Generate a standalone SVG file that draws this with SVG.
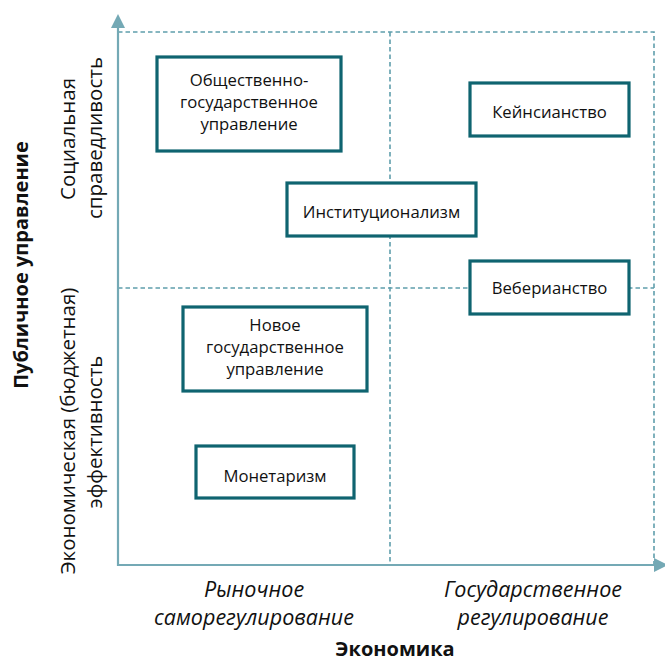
<svg xmlns="http://www.w3.org/2000/svg" width="665" height="661" viewBox="0 0 665 661">
<style>
.box{fill:#fff;stroke:#0f6470;stroke-width:3.2}
.t{font-family:"Open Sans","Noto Sans",sans-serif;font-size:16.7px;fill:#111;text-anchor:middle}
.lab{font-family:"Open Sans","Noto Sans",sans-serif;font-size:20.5px;fill:#111;text-anchor:middle}
.it{font-family:"Open Sans","Noto Sans",sans-serif;font-style:italic;font-size:21.5px;fill:#111;text-anchor:middle}
.b{font-family:"Open Sans","Noto Sans",sans-serif;font-weight:bold;font-size:20px;fill:#111;text-anchor:middle}
.dash{stroke:#5f9eac;stroke-width:1.6;stroke-dasharray:4.5 3;fill:none}
.axis{stroke:#74a9b5;stroke-width:2.2;fill:none}
.head{fill:#74a9b5}
</style>
<g id="connectors">
<path class="dash" d="M118 32 H654 V565"/>
<path class="dash" d="M390 32 V565"/>
<path class="dash" d="M118 288 H654"/>
<path class="axis" d="M118 28 V565 H656"/>
<polygon class="head" points="118,14 111,28 125,28"/>
<polygon class="head" points="668,565 654,558 654,572"/>
</g>
<g id="axis-labels">
<text class="b" transform="translate(28,265) rotate(-90)">Публичное управление</text>
<text class="lab" transform="translate(75,139) rotate(-90)">Социальная</text>
<text class="lab" transform="translate(102,138) rotate(-90)">справедливость</text>
<text class="lab" transform="translate(75,431) rotate(-90)">Экономическая (бюджетная)</text>
<text class="lab" transform="translate(102,432) rotate(-90)">эффективность</text>
<text class="it" x="254" y="597">Рыночное</text>
<text class="it" x="254" y="625">саморегулирование</text>
<text class="it" x="533" y="597">Государственное</text>
<text class="it" x="533" y="625">регулирование</text>
<text class="b" x="395" y="656">Экономика</text>
</g>
<g id="node-obshchestvenno">
<rect class="box" x="157" y="57" width="184" height="94"/>
<text class="t" x="249" y="86">Общественно-</text>
<text class="t" x="249" y="108">государственное</text>
<text class="t" x="249" y="130">управление</text>
</g>
<g id="node-keynes">
<rect class="box" x="470" y="83" width="159" height="53"/>
<text class="t" x="549.5" y="118">Кейнсианство</text>
</g>
<g id="node-institutionalism">
<rect class="box" x="287" y="183" width="189" height="53"/>
<text class="t" x="381.5" y="218">Институционализм</text>
</g>
<g id="node-weber">
<rect class="box" x="470" y="261" width="159" height="53"/>
<text class="t" x="549.5" y="294">Веберианство</text>
</g>
<g id="node-npm">
<rect class="box" x="183" y="307" width="184" height="84"/>
<text class="t" x="275" y="331">Новое</text>
<text class="t" x="275" y="353">государственное</text>
<text class="t" x="275" y="375">управление</text>
</g>
<g id="node-monetarism">
<rect class="box" x="196" y="446" width="158" height="52"/>
<text class="t" x="275" y="482">Монетаризм</text>
</g>
</svg>
